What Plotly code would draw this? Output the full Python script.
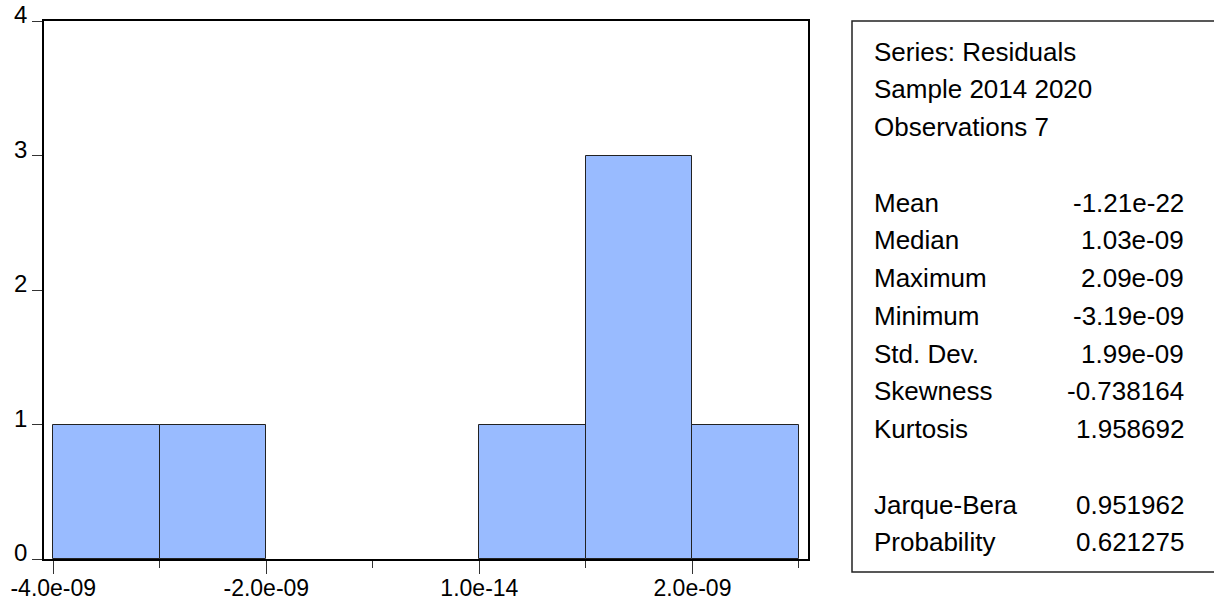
import plotly.graph_objects as go

# Histogram of residuals: bin centres (width 1e-9) and observation counts
bin_centers = [-3.5e-9, -2.5e-9, -1.5e-9, -0.5e-9, 0.5e-9, 1.5e-9, 2.5e-9]
bin_counts = [1, 1, 0, 0, 1, 3, 1]
bin_width = 1e-9

# Axis ticks
x_tick_vals = [-4e-9, -2e-9, 1e-14, 2e-9]
x_tick_text = ["-4.0e-09", "-2.0e-09", "1.0e-14", "2.0e-09"]
y_tick_vals = [0, 1, 2, 3, 4]

# Descriptive statistics panel (label, value); blank rows separate groups
stat_header = ["Series: Residuals", "Sample 2014 2020", "Observations 7"]
stat_labels = ["Mean", "Median", "Maximum", "Minimum", "Std. Dev.",
               "Skewness", "Kurtosis"]
stat_values = ["-1.21e-22", "1.03e-09", "2.09e-09", "-3.19e-09", "1.99e-09",
               "-0.738164", "1.958692"]
test_labels = ["Jarque-Bera", "Probability"]
test_values = ["0.951962", "0.621275"]

FONT = "Liberation Sans, Arial, sans-serif"
W, H = 1214, 603
PL, PR, PT, PB = 44, 808, 21, 559  # plot-area edges in pixels


def px_x(px):
    return (px - PL) / (PR - PL)


def px_y(py):
    return (PB - py) / (PB - PT)


fig = go.Figure()
fig.add_trace(go.Bar(
    x=bin_centers,
    y=bin_counts,
    width=[bin_width] * len(bin_centers),
    marker=dict(
        color="#99BBFF",
        line=dict(color="#222222",
                  width=[1 if c > 0 else 0 for c in bin_counts]),
    ),
    hoverinfo="skip",
))

fig.update_layout(
    width=W, height=H,
    margin=dict(l=PL, r=W - PR, t=PT, b=H - PB, pad=0),
    paper_bgcolor="white",
    plot_bgcolor="white",
    showlegend=False,
    bargap=0,
    font=dict(family=FONT, size=24, color="black"),
)

fig.update_xaxes(
    range=[-4.087e-9, 3.085e-9],
    automargin=False,
    tickmode="array",
    tickvals=x_tick_vals,
    ticktext=x_tick_text,
    ticks="outside",
    ticklen=13,
    tickwidth=1,
    tickcolor="#333333",
    ticklabelstandoff=-5,
    minor=dict(tickmode="linear", tick0=-4e-9, dtick=1e-9, ticks="outside",
               ticklen=7, tickwidth=1, tickcolor="#333333"),
    showgrid=False,
    zeroline=False,
    showline=True,
    linecolor="black",
    linewidth=1.5,
    mirror=True,
    tickfont=dict(family=FONT, size=23, color="black"),
)

fig.update_yaxes(
    range=[0, 4],
    automargin=False,
    tickmode="array",
    tickvals=y_tick_vals,
    ticktext=[str(v) for v in y_tick_vals],
    ticks="outside",
    ticklen=10,
    tickwidth=1,
    tickcolor="#333333",
    ticklabelshift=-6,
    showgrid=False,
    zeroline=False,
    showline=True,
    linecolor="black",
    linewidth=1.5,
    mirror=True,
    tickfont=dict(family=FONT, size=24, color="black"),
)

# Statistics box, open on the right
fig.add_shape(
    type="rect", xref="paper", yref="paper",
    x0=px_x(852), x1=px_x(1230), y0=px_y(572), y1=px_y(21),
    line=dict(color="#222222", width=1.5), fillcolor="rgba(0,0,0,0)",
    layer="above",
)

row0_y, row_step = 51.5, 37.75
label_x, value_x = 872, 1186

rows = [(t, None) for t in stat_header] + [("", None)]
rows += list(zip(stat_labels, stat_values)) + [("", None)]
rows += list(zip(test_labels, test_values))

for i, (label, value) in enumerate(rows):
    y = px_y(row0_y + row_step * i)
    if label:
        fig.add_annotation(
            x=px_x(label_x), y=y, xref="paper", yref="paper",
            text=label, showarrow=False, xanchor="left", yanchor="middle",
            font=dict(family=FONT, size=26, color="black"),
        )
    if value:
        fig.add_annotation(
            x=px_x(value_x), y=y, xref="paper", yref="paper",
            text=value, showarrow=False, xanchor="right", yanchor="middle",
            font=dict(family=FONT, size=26, color="black"),
        )

fig.write_html("out.html")
